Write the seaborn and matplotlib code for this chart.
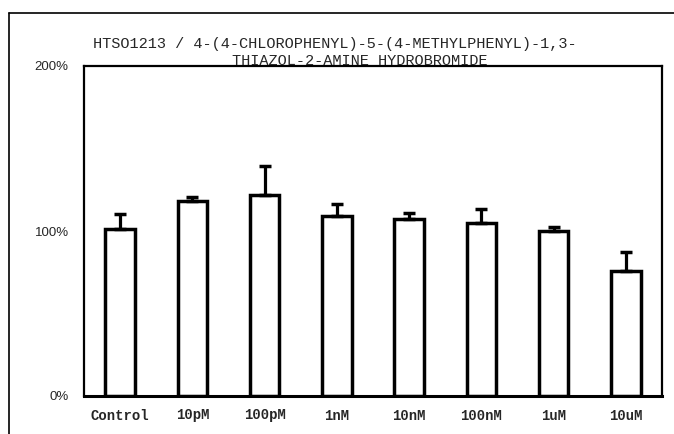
import numpy as np
import pandas as pd
import matplotlib
matplotlib.use("Agg")
import matplotlib.pyplot as plt
import seaborn as sns
from matplotlib.lines import Line2D

# ── 数据 ─────────────────────────────────────
doses = ["Control", "10pM", "100pM", "1nM", "10nM", "100nM", "1uM", "10uM"]
viability = [101, 118, 122, 109, 107, 105, 100, 76]
err_upper = [9, 2.5, 17.5, 7.5, 4, 8.5, 2.5, 11]

title_line1 = "HTSO1213 / 4-(4-CHLOROPHENYL)-5-(4-METHYLPHENYL)-1,3-"
title_line2 = "THIAZOL-2-AMINE HYDROBROMIDE"

df = pd.DataFrame({"dose": doses, "viability": viability, "err": err_upper})

sns.set_style("white")
plt.rcParams["font.family"] = ["Liberation Mono", "DejaVu Sans Mono"]

fig = plt.figure(figsize=(6.74, 4.34), dpi=100)
ax = fig.add_axes([84 / 674, 1 - 396 / 434, (662 - 84) / 674, (396 - 66) / 434])

sns.barplot(data=df, x="dose", y="viability", order=doses, errorbar=None,
            color="white", edgecolor="black", linewidth=2.5, width=0.41, ax=ax)

# 只画向上的误差线
ax.errorbar(np.arange(len(doses)), df["viability"],
            yerr=[np.zeros(len(doses)), df["err"]],
            fmt="none", ecolor="black", elinewidth=2.3, capsize=4.5, capthick=2.5,
            zorder=3)

ax.set_xlim(-0.5, len(doses) - 0.5)
ax.set_ylim(0, 200)
ax.set_yticks([0, 100, 200])
ax.set_yticklabels(["0%", "100%", "200%"], family=["Liberation Sans", "DejaVu Sans"],
                   fontsize=9.5)
ax.tick_params(axis="both", length=0)
ax.tick_params(axis="y", pad=11)
ax.tick_params(axis="x", pad=9, labelsize=10)
for lab in ax.get_xticklabels():
    lab.set_fontweight("bold")
ax.set_xlabel("")
ax.set_ylabel("")

for side in ["left", "right", "top"]:
    ax.spines[side].set_visible(True)
    ax.spines[side].set_color("black")
    ax.spines[side].set_linewidth(1.6)
ax.spines["bottom"].set_color("black")
ax.spines["bottom"].set_linewidth(2.2)

# 标题（两行）
fig.text(335 / 674, 1 - 44 / 434, title_line1, ha="center", va="center",
         fontsize=11)
fig.text(360 / 674, 1 - 61 / 434, title_line2, ha="center", va="center",
         fontsize=11)

# 外框线
fig.add_artist(Line2D([9 / 674, 1], [1 - 13 / 434, 1 - 13 / 434],
                      transform=fig.transFigure, color="black", lw=1.2))
fig.add_artist(Line2D([9 / 674, 9 / 674], [0, 1 - 13 / 434],
                      transform=fig.transFigure, color="black", lw=1.2))

fig.savefig("out.png", dpi=100)
